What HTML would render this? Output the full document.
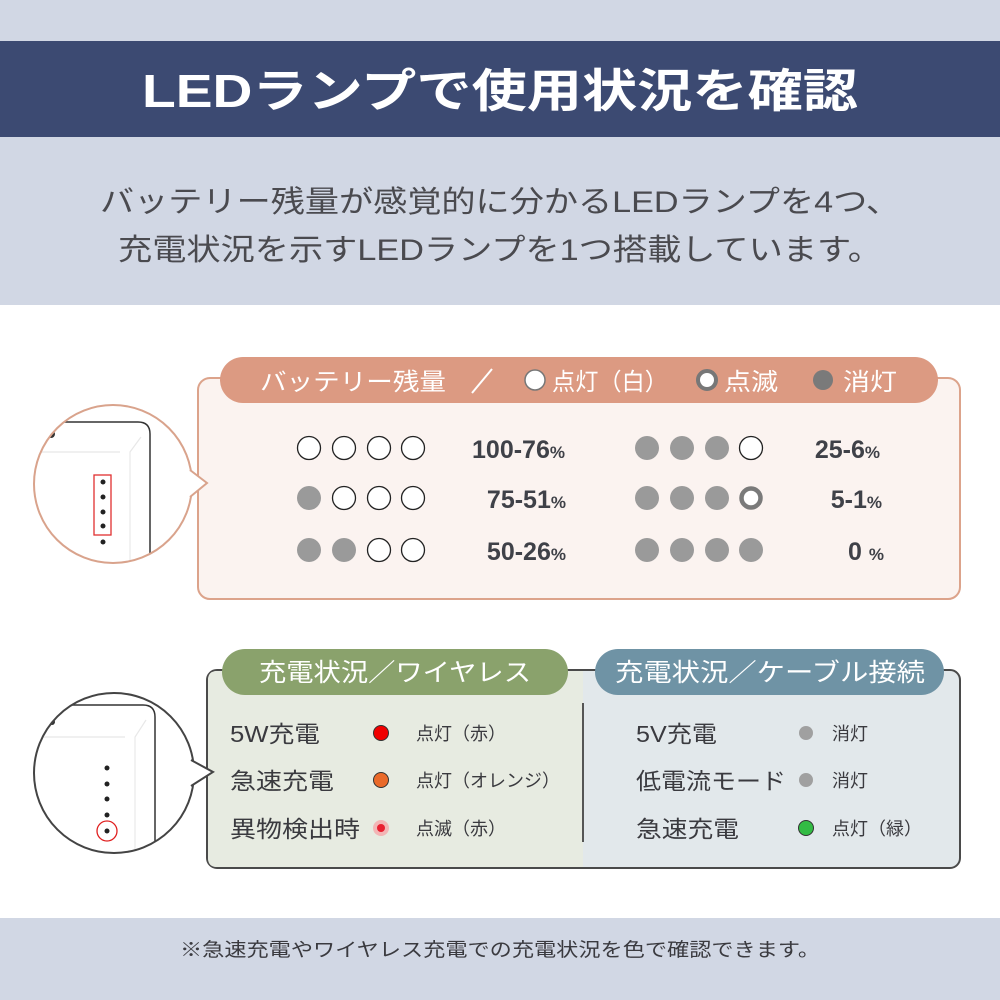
<!DOCTYPE html>
<html><head><meta charset="utf-8"><style>
html,body{margin:0;padding:0;background:#fff}
svg{display:block}
text{font-family:"Liberation Sans","Noto Sans CJK JP",sans-serif}
</style></head><body>
<svg width="1000" height="1000" viewBox="0 0 1000 1000" xmlns="http://www.w3.org/2000/svg">
<defs>
<clipPath id="c1"><circle cx="113" cy="484" r="79"/></clipPath>
<clipPath id="c2"><circle cx="114" cy="773" r="80"/></clipPath>
</defs>
<rect x="0" y="0" width="1000" height="305" fill="#d1d7e4"/>
<rect x="0" y="41" width="1000" height="96" fill="#3c4a72"/>
<text x="500" y="107" text-anchor="middle" font-size="46" fill="#fff" font-weight="bold" textLength="716" lengthAdjust="spacingAndGlyphs">LEDランプで使用状況を確認</text>
<text x="500" y="212" text-anchor="middle" font-size="30" fill="#4a4a4f" textLength="800" lengthAdjust="spacingAndGlyphs">バッテリー残量が感覚的に分かるLEDランプを4つ、</text>
<text x="500" y="260" text-anchor="middle" font-size="30" fill="#4a4a4f" textLength="764" lengthAdjust="spacingAndGlyphs">充電状況を示すLEDランプを1つ搭載しています。</text>

<!-- battery box -->
<rect x="198" y="378" width="762" height="221" rx="12" fill="#fbf3f0" stroke="#dca38b" stroke-width="2"/>
<rect x="220" y="357" width="718" height="46" rx="23" fill="#dc9a82"/>
<!-- battery callout -->
<path d="M185 470 L207 483 L185 497 Z" fill="#fff"/>
<circle cx="113" cy="484" r="79" fill="#fff"/>
<g clip-path="url(#c1)">
<path d="M40 422 L138 422 Q150 422 150 434 L150 580" fill="none" stroke="#333" stroke-width="1.5"/>
<path d="M40 452 L120 452" stroke="#e8e8e8" stroke-width="1.2"/>
<path d="M141 437 L130 452 L130 580" fill="none" stroke="#e8e8e8" stroke-width="1.2"/>
<circle cx="51" cy="434" r="4" fill="#333"/>
</g>
<circle cx="113" cy="484" r="79" fill="none" stroke="#d9a38c" stroke-width="2"/>
<path d="M191 476 L185 470" stroke="#fff" stroke-width="3"/>
<path d="M190 470 L207 483 L190 497" fill="#fff" stroke="#d9a38c" stroke-width="2" stroke-linejoin="miter"/>
<path d="M187 474 L187 493" stroke="#fff" stroke-width="5"/>
<rect x="94" y="475" width="17" height="60" fill="none" stroke="#e03030" stroke-width="1.3"/>
<g fill="#222"><circle cx="103" cy="482" r="2.5"/><circle cx="103" cy="497" r="2.5"/><circle cx="103" cy="512" r="2.5"/><circle cx="103" cy="526" r="2.5"/><circle cx="103" cy="542" r="2.5"/></g>

<text x="260" y="390" font-size="24" fill="#fff" textLength="186" lengthAdjust="spacingAndGlyphs">バッテリー残量</text>
<line x1="472" y1="393" x2="492" y2="369" stroke="#fff" stroke-width="2"/>
<circle cx="535" cy="380" r="10" fill="#fff" stroke="#777" stroke-width="1.5"/>
<text x="552" y="390" font-size="24" fill="#fff" textLength="116" lengthAdjust="spacingAndGlyphs">点灯（白）</text>
<circle cx="707" cy="380" r="9" fill="#fff" stroke="#777" stroke-width="4"/>
<text x="724" y="390" font-size="24" fill="#fff" textLength="54" lengthAdjust="spacingAndGlyphs">点滅</text>
<circle cx="823" cy="380" r="10" fill="#7a7a7a"/>
<text x="843" y="390" font-size="24" fill="#fff" textLength="54" lengthAdjust="spacingAndGlyphs">消灯</text>

<g stroke="#222" stroke-width="1.3" fill="#fff">
<circle cx="309" cy="448" r="11.5"/><circle cx="344" cy="448" r="11.5"/><circle cx="379" cy="448" r="11.5"/><circle cx="413" cy="448" r="11.5"/>
<circle cx="344" cy="498" r="11.5"/><circle cx="379" cy="498" r="11.5"/><circle cx="413" cy="498" r="11.5"/>
<circle cx="379" cy="550" r="11.5"/><circle cx="413" cy="550" r="11.5"/>
<circle cx="751" cy="448" r="11.5"/>
</g>
<g fill="#9a9a9a">
<circle cx="309" cy="498" r="12"/><circle cx="309" cy="550" r="12"/><circle cx="344" cy="550" r="12"/>
<circle cx="647" cy="448" r="12"/><circle cx="682" cy="448" r="12"/><circle cx="717" cy="448" r="12"/>
<circle cx="647" cy="498" r="12"/><circle cx="682" cy="498" r="12"/><circle cx="717" cy="498" r="12"/>
<circle cx="647" cy="550" r="12"/><circle cx="682" cy="550" r="12"/><circle cx="717" cy="550" r="12"/><circle cx="751" cy="550" r="12"/>
</g>
<circle cx="751" cy="498" r="9.5" fill="#fff" stroke="#7a7a7a" stroke-width="4.5"/>
<g font-size="25" fill="#3f4148" font-weight="bold" text-anchor="end">
<text x="565" y="458">100-76<tspan font-size="17">%</tspan></text>
<text x="566" y="508">75-51<tspan font-size="17">%</tspan></text>
<text x="566" y="560">50-26<tspan font-size="17">%</tspan></text>
<text x="880" y="458">25-6<tspan font-size="17">%</tspan></text>
<text x="882" y="508">5-1<tspan font-size="17">%</tspan></text>
<text x="884" y="560">0 <tspan font-size="17">%</tspan></text>
</g>

<!-- charging box -->
<rect x="207" y="670" width="753" height="198" rx="10" fill="#e2e8eb" stroke="#4a4a4a" stroke-width="2"/>
<path d="M217 671 L583 671 L583 867 L217 867 Q208 867 208 858 L208 680 Q208 671 217 671 Z" fill="#e7ebe1"/>
<circle cx="114" cy="773" r="80" fill="#fff"/>
<g clip-path="url(#c2)">
<path d="M40 705 L143 705 Q155 705 155 717 L155 870" fill="none" stroke="#333" stroke-width="1.5"/>
<path d="M40 737 L125 737" stroke="#e8e8e8" stroke-width="1.2"/>
<path d="M146 720 L135 737 L135 870" fill="none" stroke="#e8e8e8" stroke-width="1.2"/>
<circle cx="52" cy="722" r="3" fill="#333"/>
</g>
<circle cx="114" cy="773" r="80" fill="none" stroke="#444" stroke-width="2"/>
<path d="M191 760 L213 772 L191 786" fill="#fff" stroke="#444" stroke-width="2"/>
<path d="M189 763 L189 784" stroke="#fff" stroke-width="5"/>
<g fill="#222"><circle cx="107" cy="768" r="2.5"/><circle cx="107" cy="784" r="2.5"/><circle cx="107" cy="799" r="2.5"/><circle cx="107" cy="815" r="2.5"/><circle cx="107" cy="831" r="2.5"/></g>
<circle cx="107" cy="831" r="10" fill="none" stroke="#e02020" stroke-width="1.3"/>
<line x1="583" y1="703" x2="583" y2="842" stroke="#555" stroke-width="2"/>
<rect x="222" y="649" width="346" height="46" rx="23" fill="#8aa26c"/>
<text x="395" y="681" text-anchor="middle" font-size="25" fill="#fff" textLength="272" lengthAdjust="spacingAndGlyphs">充電状況／ワイヤレス</text>
<rect x="595" y="649" width="349" height="46" rx="23" fill="#6f93a5"/>
<text x="770" y="681" text-anchor="middle" font-size="25" fill="#fff" textLength="310" lengthAdjust="spacingAndGlyphs">充電状況／ケーブル接続</text>

<g font-size="23" fill="#3a3a3f">
<text x="230" y="742" textLength="90" lengthAdjust="spacingAndGlyphs">5W充電</text>
<text x="230" y="789" textLength="104" lengthAdjust="spacingAndGlyphs">急速充電</text>
<text x="230" y="837" textLength="130" lengthAdjust="spacingAndGlyphs">異物検出時</text>
<text x="636" y="742" textLength="81" lengthAdjust="spacingAndGlyphs">5V充電</text>
<text x="636" y="789" textLength="150" lengthAdjust="spacingAndGlyphs">低電流モード</text>
<text x="636" y="837" textLength="103" lengthAdjust="spacingAndGlyphs">急速充電</text>
</g>
<g font-size="18" fill="#3a3a3f">
<text x="416" y="740">点灯（赤）</text>
<text x="416" y="787">点灯（オレンジ）</text>
<text x="416" y="835">点滅（赤）</text>
<text x="832" y="740">消灯</text>
<text x="832" y="787">消灯</text>
<text x="832" y="835">点灯（緑）</text>
</g>
<circle cx="381" cy="733" r="7.5" fill="#f00000" stroke="#333" stroke-width="1"/>
<circle cx="381" cy="780" r="7.5" fill="#ea6a2a" stroke="#333" stroke-width="1"/>
<circle cx="381" cy="828" r="8" fill="#f3b5b5"/>
<circle cx="381" cy="828" r="4" fill="#e82030"/>
<circle cx="806" cy="733" r="7" fill="#a0a0a0"/>
<circle cx="806" cy="780" r="7" fill="#a0a0a0"/>
<circle cx="806" cy="828" r="7.5" fill="#33bb44" stroke="#333" stroke-width="1"/>

<rect x="0" y="918" width="1000" height="82" fill="#d1d7e4"/>
<text x="500" y="956" text-anchor="middle" font-size="19" fill="#3a3a3f" textLength="640" lengthAdjust="spacingAndGlyphs">※急速充電やワイヤレス充電での充電状況を色で確認できます。</text>
</svg>
</body></html>
